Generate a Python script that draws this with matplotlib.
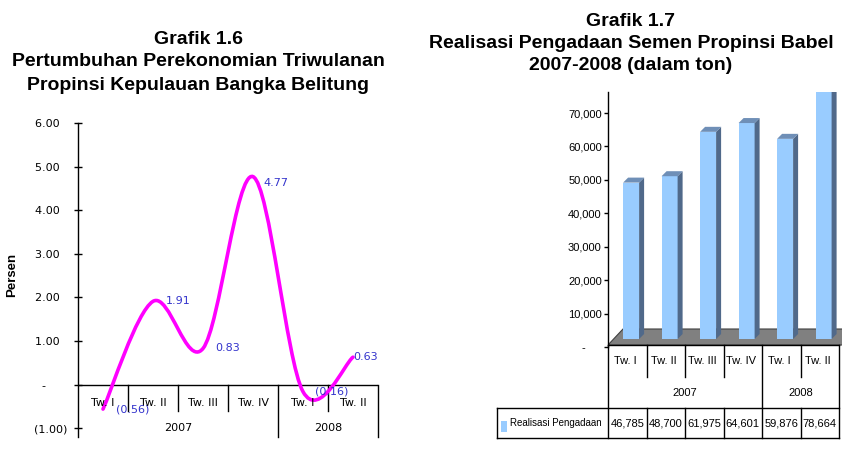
import numpy as np
import matplotlib
matplotlib.use("Agg")
import matplotlib.pyplot as plt
from matplotlib.path import Path
from matplotlib.patches import PathPatch, Polygon, Rectangle

# data for Grafik 1.6 (growth per quarter, persen)
quarters = ['Tw. I', 'Tw. II', 'Tw. III', 'Tw. IV', 'Tw. I', 'Tw. II']
years = ['2007', '2007', '2007', '2007', '2008', '2008']
growth = [-0.56, 1.91, 0.83, 4.77, -0.16, 0.63]
growth_ticks = [-1, 0, 1, 2, 3, 4, 5, 6]

# data for Grafik 1.7 (semen, ton)
semen_quarters = ['Tw. I', 'Tw. II', 'Tw. III', 'Tw. IV', 'Tw. I', 'Tw. II']
semen = [46785, 48700, 61975, 64601, 59876, 78664]
semen_ticks = [0, 10000, 20000, 30000, 40000, 50000, 60000, 70000]
series_name = 'Realisasi Pengadaan'

W, H = 842, 468
fig = plt.figure(figsize=(W / 100, H / 100), dpi=100)
sans = 'Liberation Sans'


def px(x, y):
    # pixel position -> figure fraction
    return x / W, 1 - y / H


def fmt_growth(v):
    if v == 0:
        return '-      '
    if v < 0:
        return '(%.2f)' % -v
    return '%.2f  ' % v


# ---------- left chart ----------
for i, line in enumerate(['Grafik 1.6', 'Pertumbuhan Perekonomian Triwulanan',
                          'Propinsi Kepulauan Bangka Belitung']):
    fig.text(*px(198, 39 + 23 * i), line, ha='center', va='center',
             fontsize=14, fontweight='bold', family=sans)

ax1 = fig.add_axes([78 / W, 1 - 437 / H, 300 / W, 314 / H])
ax1.set_xlim(0, 6)
ax1.set_ylim(-1.2, 6.0)
for s in ['top', 'right', 'bottom']:
    ax1.spines[s].set_visible(False)
ax1.spines['left'].set_linewidth(1)
ax1.set_xticks([])
ax1.set_yticks(growth_ticks)
ax1.set_yticklabels([fmt_growth(v) for v in growth_ticks])
ax1.tick_params(axis='y', direction='inout', length=6, width=1, labelsize=8, pad=5)
ax1.set_ylabel('Persen', fontsize=9.5, fontweight='bold', family=sans)
ax1.yaxis.set_label_coords((18 - 78) / 300, (437 - 275) / 314)
ax1.axhline(0, color='black', lw=1)

# smoothed line (catmull-rom bezier, like excel)
xs = np.arange(len(growth)) + 0.5
pts = np.column_stack([xs, growth])
ext = np.vstack([pts[0], pts, pts[-1]])
verts = [tuple(pts[0])]
codes = [Path.MOVETO]
for i in range(len(pts) - 1):
    p0, p1, p2, p3 = ext[i], ext[i + 1], ext[i + 2], ext[i + 3]
    c1 = p1 + (p2 - p0) / 6
    c2 = p2 - (p3 - p1) / 6
    verts += [tuple(c1), tuple(c2), tuple(p2)]
    codes += [Path.CURVE4] * 3
ax1.add_patch(PathPatch(Path(verts, codes), fill=False, edgecolor='#ff00ff', lw=2.6,
                        capstyle='round', clip_on=False, zorder=3))

# data labels
offsets = [(13, 0), (13, 0), (12, 0), (10, -6), (12, 0), (0, 0)]
for x, v, (dx, dy) in zip(xs, growth, offsets):
    ax1.annotate(fmt_growth(v).strip(), (x, v), xytext=(dx * 0.72, dy * 0.72),
                 textcoords='offset points', ha='left', va='center',
                 fontsize=8, color='#3333cc', zorder=4)

# category axis below zero
for i, q in enumerate(quarters):
    ax1.text(i + 0.5, -0.41, q, ha='center', va='center', fontsize=8)
    end_of_year = i == len(years) - 1 or years[i + 1] != years[i]
    ax1.plot([i + 1, i + 1], [0, -1.2 if end_of_year else -0.6], color='black', lw=1,
             clip_on=False)
start = 0
for i in range(len(years)):
    if i == len(years) - 1 or years[i + 1] != years[i]:
        ax1.text((start + i + 1) / 2, -1.0, years[i], ha='center', va='center', fontsize=8)
        start = i + 1

# ---------- right chart ----------
for i, line in enumerate(['Grafik 1.7', 'Realisasi Pengadaan Semen Propinsi Babel',
                          '2007-2008 (dalam ton)']):
    fig.text(*px(631, 21 + 22 * i), line, ha='center', va='center',
             fontsize=14, fontweight='bold', family=sans)

cat_w = 38.5          # px per category
ppu = 234 / 70000     # px per ton
ax2 = fig.add_axes([608 / W, 1 - 347 / H, 234 / W, 255 / H])
ax2.set_xlim(-0.5, -0.5 + 234 / cat_w)
ax2.set_ylim(0, 255 / ppu)
for s in ['top', 'right', 'bottom']:
    ax2.spines[s].set_visible(False)
ax2.spines['left'].set_linewidth(1)
ax2.set_xticks([])
ax2.set_yticks(semen_ticks)
ax2.set_yticklabels(['{:,}'.format(v) if v else '-     ' for v in semen_ticks],
                    family=sans, fontsize=8)
ax2.tick_params(axis='y', direction='out', length=3, width=1, pad=1.5)

dx = 5 / cat_w
dy = 5 / ppu
base = 8 / ppu
floor_front = 2 / ppu
floor_back = 18 / ppu
ax2.add_patch(Polygon([(-0.5, floor_front), (-0.5 + 15 / cat_w, floor_back),
                       (6, floor_back), (6, floor_front)],
                      closed=True, facecolor='#808080', edgecolor='#404040', lw=0.8, zorder=1))

bw = 16 / cat_w
xb = np.arange(len(semen)) + 0.1
ax2.bar(xb, semen, width=bw, bottom=base, color='#99ccff', edgecolor='none', zorder=2)
for x, v in zip(xb, semen):
    l, r, t = x - bw / 2, x + bw / 2, base + v
    ax2.add_patch(Polygon([(r, base), (r + dx, base + dy), (r + dx, t + dy), (r, t)],
                          facecolor='#50698a', edgecolor='none', zorder=2))
    ax2.add_patch(Polygon([(l, t), (l + dx, t + dy), (r + dx, t + dy), (r, t)],
                          facecolor='#6f8fb7', edgecolor='none', zorder=2))

# data table under the chart
tr = ax2.get_xaxis_transform()


def ay(ypx):
    return (347 - ypx) / 255


r0, r1, r2, r3 = ay(345), ay(377), ay(408), ay(438)
x_left = -0.5 + (497 - 608) / cat_w
n = len(semen)
kw = dict(color='black', lw=1, transform=tr, clip_on=False)
ax2.plot([-0.5, n - 0.5], [r0, r0], **kw)
ax2.plot([x_left, n - 0.5], [r2, r2], **kw)
ax2.plot([x_left, n - 0.5], [r3, r3], **kw)
ax2.plot([x_left, x_left], [r2, r3], **kw)
ax2.plot([-0.5, -0.5], [r0, r3], **kw)
ax2.plot([n - 0.5, n - 0.5], [r0, r3], **kw)
for k in range(n - 1):
    if years[k + 1] != years[k]:
        ax2.plot([k + 0.5, k + 0.5], [r0, r3], **kw)
    else:
        ax2.plot([k + 0.5, k + 0.5], [r0, r1], **kw)
        ax2.plot([k + 0.5, k + 0.5], [r2, r3], **kw)

tkw = dict(transform=tr, ha='center', va='center', family=sans, fontsize=8, clip_on=False)
for k, (q, v) in enumerate(zip(semen_quarters, semen)):
    ax2.text(k - 0.05, (r0 + r1) / 2, q, **tkw)
    ax2.text(k, (r2 + r3) / 2, '{:,}'.format(v), **tkw)
start = 0
for k in range(n):
    if k == n - 1 or years[k + 1] != years[k]:
        ax2.text((start + k) / 2, (r1 + r2) / 2, years[k], **tkw)
        start = k + 1

ax2.add_patch(Rectangle((-0.5 + (501 - 608) / cat_w, ay(432)), 6 / cat_w, 11 / 255,
                        transform=tr, facecolor='#99ccff', edgecolor='none', clip_on=False))
ax2.text(-0.5 + (510 - 608) / cat_w, (r2 + r3) / 2, series_name, transform=tr,
         ha='left', va='center', family=sans, fontsize=7, clip_on=False)

fig.savefig('out.png', dpi=100)
